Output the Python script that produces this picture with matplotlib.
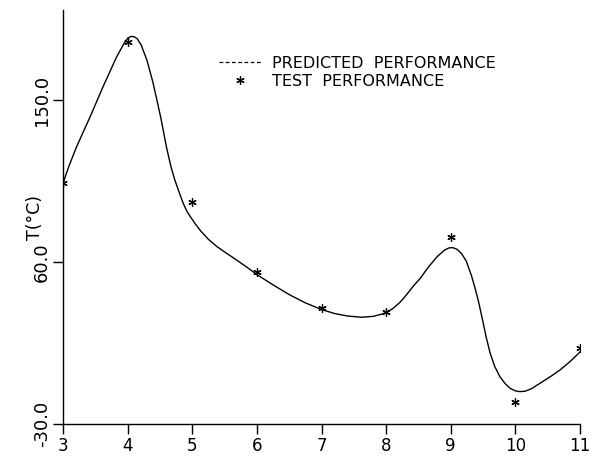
import matplotlib
matplotlib.use('Agg')
import matplotlib.pyplot as plt
from matplotlib.lines import Line2D

# predicted performance curve
curve_x = [3.0, 3.05, 3.1, 3.21, 3.42, 3.62, 3.83, 3.9, 3.95, 4.0, 4.05, 4.1,
           4.15, 4.21, 4.3, 4.39, 4.45, 4.52, 4.6, 4.67, 4.73, 4.8, 4.86, 4.92,
           4.97, 5.05, 5.13, 5.25, 5.38, 5.5, 5.69, 5.85, 6.0, 6.25, 6.51, 6.75,
           7.0, 7.2, 7.4, 7.62, 7.8, 7.95, 8.1, 8.22, 8.32, 8.43, 8.53, 8.65,
           8.79, 8.9, 8.97, 9.03, 9.1, 9.17, 9.24, 9.32, 9.38, 9.43, 9.5, 9.55,
           9.61, 9.68, 9.76, 9.84, 9.92, 10.0, 10.07, 10.15, 10.25, 10.38, 10.55,
           10.69, 10.85, 11.0]
curve_y = [103.5, 109, 114, 124, 140.7, 157.4, 174, 178.5, 181.8, 184.3, 185.3, 185.2,
           184, 180.5, 172, 160, 150.5, 139, 124, 113, 105.6, 98.5, 92.6, 88,
           85.2, 81, 77.3, 72.6, 68.6, 65.6, 61, 57, 53, 47.3, 41.7, 37.3,
           33.6, 31.4, 30, 29.3, 29.8, 31.2, 34, 37.8, 42, 47, 51, 57,
           63, 66.5, 67.8, 68, 67, 64.5, 60.5, 52.5, 45, 38, 26.5, 18,
           9.3, 2, -3.7, -7.5, -10.2, -11.6, -12, -11.8, -10.4, -7.4, -3.5,
           0, 4.8, 10]

# test performance points
test_x = [3, 4, 5, 6, 7, 8, 9, 10, 11]
test_y = [104, 182, 93.5, 54.2, 34.3, 32.4, 74, -17.5, 12.2]

xticks = [3, 4, 5, 6, 7, 8, 9, 10, 11]
yticks = [150.0, 60.0, -30.0]
ytick_labels = ['150.0', '60.0', '-30.0']

fig = plt.figure(figsize=(5.92, 4.57), dpi=100)
ax = fig.add_axes([63/592, 33/457, 517/592, 414/457])

ax.plot(curve_x, curve_y, color='black', lw=1.0)
ax.plot(test_x, test_y, ls='none', marker=(6, 2, 0), ms=6, mew=0.9, color='black')

ax.set_xlim(3, 11)
ax.set_ylim(-30, 200)
ax.set_xticks(xticks)
ax.set_xticklabels([str(t) for t in xticks])
ax.set_yticks(yticks)
ax.set_yticklabels(ytick_labels, rotation=90, va='center')

for s in ['top', 'right']:
    ax.spines[s].set_visible(False)
for s in ['left', 'bottom']:
    ax.spines[s].set_linewidth(1.0)

ax.tick_params(axis='both', direction='out', length=7.5, width=1.0,
               labelsize=12, pad=1)
ax.tick_params(axis='x', pad=2)
ax.tick_params(axis='y', labelsize=13)
ax.set_ylabel('T(°C)', fontsize=12.5)
ax.yaxis.set_label_coords(-0.037, 0.5)

handles = [Line2D([], [], color='black', lw=0.9, ls=(0, (3, 2))),
           Line2D([], [], ls='none', marker=(6, 2, 0), ms=6, mew=0.9, color='black')]
ax.legend(handles, ['PREDICTED  PERFORMANCE', 'TEST  PERFORMANCE'],
          loc='upper left', bbox_to_anchor=(0.29, 0.905), frameon=False,
          fontsize=11.5, handlelength=2.6, handletextpad=0.7,
          labelspacing=0.19, borderaxespad=0)

fig.savefig('out.png', dpi=100)
